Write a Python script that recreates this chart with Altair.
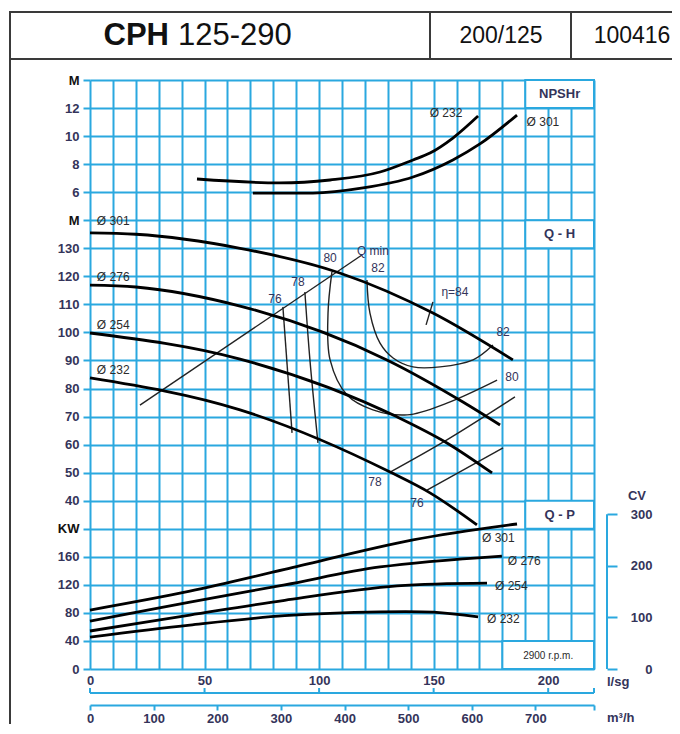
import altair as alt
import pandas as pd

# ---------------- data ----------------
# NPSHr curves: flow l/s, metres
npsh_232_q = [46.7, 82.9, 104.8, 126.6, 141.0, 148.4, 158.4, 169.4]
npsh_232_m = [6.94, 6.66, 6.87, 7.44, 8.30, 8.79, 9.86, 11.43]
npsh_301_q = [71.1, 97.3, 119.2, 141.0, 158.4, 170.2, 186.4]
npsh_301_m = [5.94, 5.94, 6.30, 7.08, 8.30, 9.44, 11.5]

# Q-H curves: flow l/s, head m
h_301_q = [0, 20, 65.5, 109, 149.7, 184.6]
h_301_m = [135.5, 135.0, 130.0, 121.2, 106.9, 90.2]
h_276_q = [0, 20, 65.5, 129.6, 162.8, 179.0]
h_276_m = [116.9, 116.2, 109.4, 90.2, 75.2, 67.0]
h_254_q = [0, 65.5, 134.0, 155.8, 175.5]
h_254_m = [99.8, 90.5, 69.9, 60.6, 49.9]
h_232_q = [0, 65.5, 131.0, 148.4, 168.9]
h_232_m = [83.8, 72.4, 50.2, 42.8, 31.4]

# efficiency iso-lines (flow l/s, head m)
e76a_q = [84.2, 88.2]
e76a_m = [109.1, 64.2]
e76b_q = [147.1, 180.3]
e76b_m = [43.8, 58.8]
e78a_q = [93.8, 96.0, 99.5]
e78a_m = [114.4, 90.2, 60.6]
e78b_q = [131.0, 155.8, 185.5]
e78b_m = [50.2, 61.7, 77.0]
e80_q = [105.6, 103.9, 104.8, 112.2, 123.5, 138.4, 155.8, 177.7]
e80_m = [121.6, 106.9, 90.2, 77.7, 72.4, 70.6, 74.8, 83.0]
e82_q = [120.9, 122.2, 126.6, 132.3, 141.0, 152.8, 167.2, 175.9]
e82_m = [118.7, 106.9, 96.2, 90.9, 87.7, 87.7, 90.2, 95.5]
e84_q = [149.7, 146.7]
e84_m = [110.9, 102.7]
qmin_q = [21.8, 118.7]
qmin_m = [74.1, 127.6]

# Q-P curves: flow l/s, kW
p_301_q = [0, 43.6, 85, 141, 186.4]
p_301_kw = [84.1, 111, 142, 184, 206.8]
p_276_q = [0, 43.6, 85, 126.6, 179.8]
p_276_kw = [68.4, 95.5, 120, 145.5, 161.1]
p_254_q = [0, 43.6, 85, 134, 173.3]
p_254_kw = [54.2, 77, 98, 118.4, 122.6]
p_232_q = [0, 43.6, 85, 126.6, 150, 169.4]
p_232_kw = [45.6, 62.7, 76, 81.5, 81.0, 74.2]

# labels
npsh_lbl_text = ["Ø 232", "Ø 301"]
npsh_lbl_q = [155.4, 197.7]
npsh_lbl_m = [11.65, 11.0]

h_lbl_text = ["Ø 301", "Ø 276", "Ø 254", "Ø 232"]
h_lbl_q = [3, 3, 3, 3]
h_lbl_m = [139.7, 119.8, 102.7, 86.6]

eff_lbl_text = ["76", "78", "80", "82", "Q min", "η=84", "82", "80", "78", "76"]
eff_lbl_q = [80.7, 90.8, 104.8, 125.7, 123.5, 159.3, 180.3, 184.2, 124.4, 142.7]
eff_lbl_m = [111.9, 118.0, 126.5, 123.0, 129.0, 114.4, 100.2, 84.1, 46.7, 39.2]

p_lbl_text = ["Ø 301", "Ø 276", "Ø 254", "Ø 232"]
p_lbl_q = [171.1, 182.4, 176.8, 173.3]
p_lbl_kw = [186.8, 154.0, 118.4, 71.3]

# axis tick values
npsh_ticks = [6, 8, 10, 12, 14]
h_ticks = [40, 50, 60, 70, 80, 90, 100, 110, 120, 130, 140]
kw_ticks = [0, 40, 80, 120, 160, 200]
cv_ticks = [0, 100, 200, 300]
q_grid = list(range(0, 230, 10))
q_brackets = [0, 50, 100, 150, 200, 220]
m3h_ticks = [0, 100, 200, 300, 400, 500, 600, 700, 792]

# --------------- styling ---------------
GRID = "#2aa8df"
NAVY = "#34345a"
DARK = "#2b2b2b"
FONT = "Liberation Sans"
W, H = 504, 589
PAD_BOTTOM = 55
PAD_RIGHT = 78
QMAX = 220
KW_PER_CV = 0.7355


def long(d):
    rows = []
    for name, (qs, vs) in d.items():
        for i, (q, v) in enumerate(zip(qs, vs)):
            rows.append({"series": name, "i": i, "q": q, "v": v})
    return pd.DataFrame(rows)


def yaxis(values, top_val, top_label):
    return alt.Axis(
        orient="left", values=values, grid=True, gridColor=GRID, gridWidth=2, gridOpacity=1,
        domain=False, ticks=True, tickColor=GRID, tickWidth=2, tickSize=7,
        labelExpr=f"datum.value == {top_val} ? '{top_label}' : datum.label",
        labelColor={"condition": {"test": f"datum.value == {top_val}", "value": "#111111"}, "value": NAVY},
        labelFont=FONT, labelFontSize=13, labelFontWeight="bold", labelPadding=4,
        labelOverlap=False, labelFlush=False, title=None)


xs = alt.Scale(domain=[0, QMAX], nice=False, zero=False)
X_none = alt.X("q:Q", scale=xs, axis=None)
X_grid = alt.X("q:Q", scale=xs, axis=alt.Axis(
    orient="bottom", values=q_grid, grid=True, gridColor=GRID, gridWidth=2, gridOpacity=1,
    domain=False, ticks=False,
    labelExpr="datum.value % 50 == 0 && datum.value <= 200 ? datum.label : ''",
    labelColor=NAVY, labelFont=FONT, labelFontSize=13, labelFontWeight="bold",
    labelPadding=5, labelFlush=False, labelOverlap=False, title=None))

Y_np = alt.Y("v:Q", scale=alt.Scale(domain=[-28, 14], nice=False, zero=False),
             axis=yaxis(npsh_ticks, 14, "M"))
Y_h = alt.Y("v:Q", scale=alt.Scale(domain=[-20, 190], nice=False, zero=False),
            axis=yaxis(h_ticks, 140, "M"))
Y_kw = alt.Y("v:Q", scale=alt.Scale(domain=[0, 840], nice=False, zero=False),
             axis=yaxis(kw_ticks, 200, "KW"))
Y_cv = alt.Y("v:Q", scale=alt.Scale(domain=[0, 840 / KW_PER_CV], nice=False, zero=False),
             axis=alt.Axis(orient="right", values=cv_ticks, offset=13, domain=False, grid=False,
                           ticks=True, tickColor=GRID, tickWidth=2, tickSize=10,
                           labelAlign="right", labelPadding=35, labelColor=NAVY, labelFont=FONT,
                           labelFontSize=13, labelFontWeight="bold", labelFlush=False,
                           labelOverlap=False, title=None))


def curve_layer(df, Y, X, width, interp):
    return alt.Chart(df).mark_line(color="black", strokeWidth=width, interpolate=interp).encode(
        x=X, y=Y, detail="series:N", order="i:Q")


def text_layer(qs, vs, texts, Y, X, align="left", size=13, color=DARK, weight="normal"):
    df = pd.DataFrame({"q": qs, "v": vs, "t": texts})
    return alt.Chart(df).mark_text(align=align, baseline="middle", font=FONT, fontSize=size,
                                   color=color, fontWeight=weight).encode(x=X, y=Y, text="t:N")


def box_layer(q0, q1, v0, v1, Y, X):
    df = pd.DataFrame({"q": [q0], "q2": [q1], "v": [v0], "v2": [v1]})
    return alt.Chart(df).mark_rect(fill="white", stroke=GRID, strokeWidth=2).encode(
        x=X, x2="q2:Q", y=Y, y2="v2:Q")


# ---------------- NPSHr panel ----------------
npsh_df = long({"232": (npsh_232_q, npsh_232_m), "301": (npsh_301_q, npsh_301_m)})
npsh_group = alt.layer(
    box_layer(190, 220, 12, 14, Y_np, X_none),
    text_layer([205], [13], ["NPSHr"], Y_np, X_none, align="center", color=NAVY, weight="bold"),
    curve_layer(npsh_df, Y_np, X_none, 2.8, "monotone"),
    text_layer(npsh_lbl_q, npsh_lbl_m, npsh_lbl_text, Y_np, X_none, align="center", size=12),
)

# ---------------- Q-H panel ----------------
h_df = long({"301": (h_301_q, h_301_m), "276": (h_276_q, h_276_m),
             "254": (h_254_q, h_254_m), "232": (h_232_q, h_232_m)})
eff_df = long({"76a": (e76a_q, e76a_m), "76b": (e76b_q, e76b_m),
               "78a": (e78a_q, e78a_m), "78b": (e78b_q, e78b_m),
               "80": (e80_q, e80_m), "82": (e82_q, e82_m),
               "84": (e84_q, e84_m), "qmin": (qmin_q, qmin_m)})
qh_group = alt.layer(
    box_layer(190, 220, 130, 140, Y_h, X_none),
    box_layer(190, 220, 30, 40, Y_h, X_none),
    text_layer([205], [135], ["Q - H"], Y_h, X_none, align="center", color=NAVY, weight="bold"),
    text_layer([205], [35], ["Q - P"], Y_h, X_none, align="center", color=NAVY, weight="bold"),
    alt.Chart(eff_df).mark_line(color="#222222", strokeWidth=1.4, interpolate="catmull-rom").encode(
        x=X_none, y=Y_h, detail="series:N", order="i:Q"),
    curve_layer(h_df, Y_h, X_none, 2.8, "monotone"),
    text_layer(h_lbl_q, h_lbl_m, h_lbl_text, Y_h, X_none, size=12),
    text_layer(eff_lbl_q, eff_lbl_m, eff_lbl_text, Y_h, X_none, align="center", size=12, color=NAVY),
)

# ---------------- Q-P panel ----------------
p_df = long({"301": (p_301_q, p_301_kw), "276": (p_276_q, p_276_kw),
             "254": (p_254_q, p_254_kw), "232": (p_232_q, p_232_kw)})
bracket_line = alt.Chart(pd.DataFrame({"q": [0], "q2": [QMAX]})).mark_rule(
    color=GRID, strokeWidth=2).encode(x=X_grid, x2="q2:Q", y=alt.value(H + 24))
bracket_ticks = alt.Chart(pd.DataFrame({"q": q_brackets})).mark_rule(
    color=GRID, strokeWidth=2).encode(x=X_grid, y=alt.value(H + 19), y2=alt.value(H + 24))
kw_group = alt.layer(
    box_layer(180, 220, 0, 40, Y_kw, X_grid),
    text_layer([200], [19], ["2900 r.p.m."], Y_kw, X_grid, align="center", size=10),
    curve_layer(p_df, Y_kw, X_grid, 2.8, "catmull-rom"),
    text_layer(p_lbl_q, p_lbl_kw, p_lbl_text, Y_kw, X_grid, size=12),
    bracket_line,
    bracket_ticks,
)

# ---------------- CV axis ----------------
cv_group = alt.layer(
    alt.Chart(pd.DataFrame({"v": [0], "v2": [300]})).mark_rule(color=GRID, strokeWidth=2).encode(
        x=alt.value(W + 13), y=Y_cv, y2="v2:Q"),
    alt.Chart(pd.DataFrame({"v": [335], "t": ["CV"]})).mark_text(
        font=FONT, fontSize=13, fontWeight="bold", color=NAVY, align="center").encode(
        x=alt.value(W + 43), y=Y_cv, text="t:N"),
)

# ---------------- m3/h axis ----------------
m3h_layer = alt.Chart(pd.DataFrame({"m": [0, 792]})).mark_point(opacity=0).encode(
    x=alt.X("m:Q", scale=alt.Scale(domain=[0, 792], nice=False, zero=False), axis=alt.Axis(
        orient="bottom", offset=36, values=m3h_ticks,
        labelExpr="datum.value > 700 ? '' : datum.label",
        domain=True, domainColor=GRID, domainWidth=2, ticks=True, tickColor=GRID, tickWidth=2,
        tickSize=5, grid=False, labelPadding=2, labelColor=NAVY, labelFont=FONT, labelFontSize=13,
        labelFontWeight="bold", labelFlush=False, labelOverlap=False, title=None)),
    y=alt.value(0))

# ---------------- header & frame ----------------
one = pd.DataFrame({"d": [0]})
frame_col = "#3a3a3a"
header_box = alt.Chart(one).mark_rect(fill="white", stroke=frame_col, strokeWidth=2).encode(
    x=alt.value(-80), x2=alt.value(610), y=alt.value(-68), y2=alt.value(-21))
left_frame = alt.Chart(one).mark_rule(color=frame_col, strokeWidth=2).encode(
    x=alt.value(-80), y=alt.value(-21), y2=alt.value(H + PAD_BOTTOM))
div1 = alt.Chart(one).mark_rule(color=frame_col, strokeWidth=2).encode(
    x=alt.value(340), y=alt.value(-68), y2=alt.value(-21))
div2 = alt.Chart(one).mark_rule(color=frame_col, strokeWidth=2).encode(
    x=alt.value(481), y=alt.value(-68), y2=alt.value(-21))


def htext(t, x, y, size, weight="normal", align="center", color="#111111"):
    return alt.Chart(pd.DataFrame({"t": [t]})).mark_text(
        font=FONT, fontSize=size, fontWeight=weight, align=align, baseline="middle",
        color=color).encode(x=alt.value(x), y=alt.value(y), text="t:N")


deco = alt.layer(
    header_box, left_frame, div1, div2,
    htext("CPH", 79, -44, 31, weight="bold", align="right"),
    htext("125-290", 88, -44, 31, align="left"),
    htext("200/125", 411, -44, 23),
    htext("100416", 542, -44, 23),
    htext("l/sg", W + 13, H + 13, 13, weight="bold", align="left", color=NAVY),
    htext("m³/h", W + 13, H + 49, 13, weight="bold", align="left", color=NAVY),
)

chart = alt.layer(
    deco, npsh_group, qh_group, kw_group, cv_group, m3h_layer
).resolve_scale(x="independent", y="independent").properties(
    width=W, height=H,
    padding={"left": 82, "top": 72, "right": PAD_RIGHT, "bottom": PAD_BOTTOM},
    autosize=alt.AutoSizeParams(type="none"),
).configure_view(strokeWidth=0)

chart.save("out.html", embed_options={"renderer": "svg", "actions": False})
